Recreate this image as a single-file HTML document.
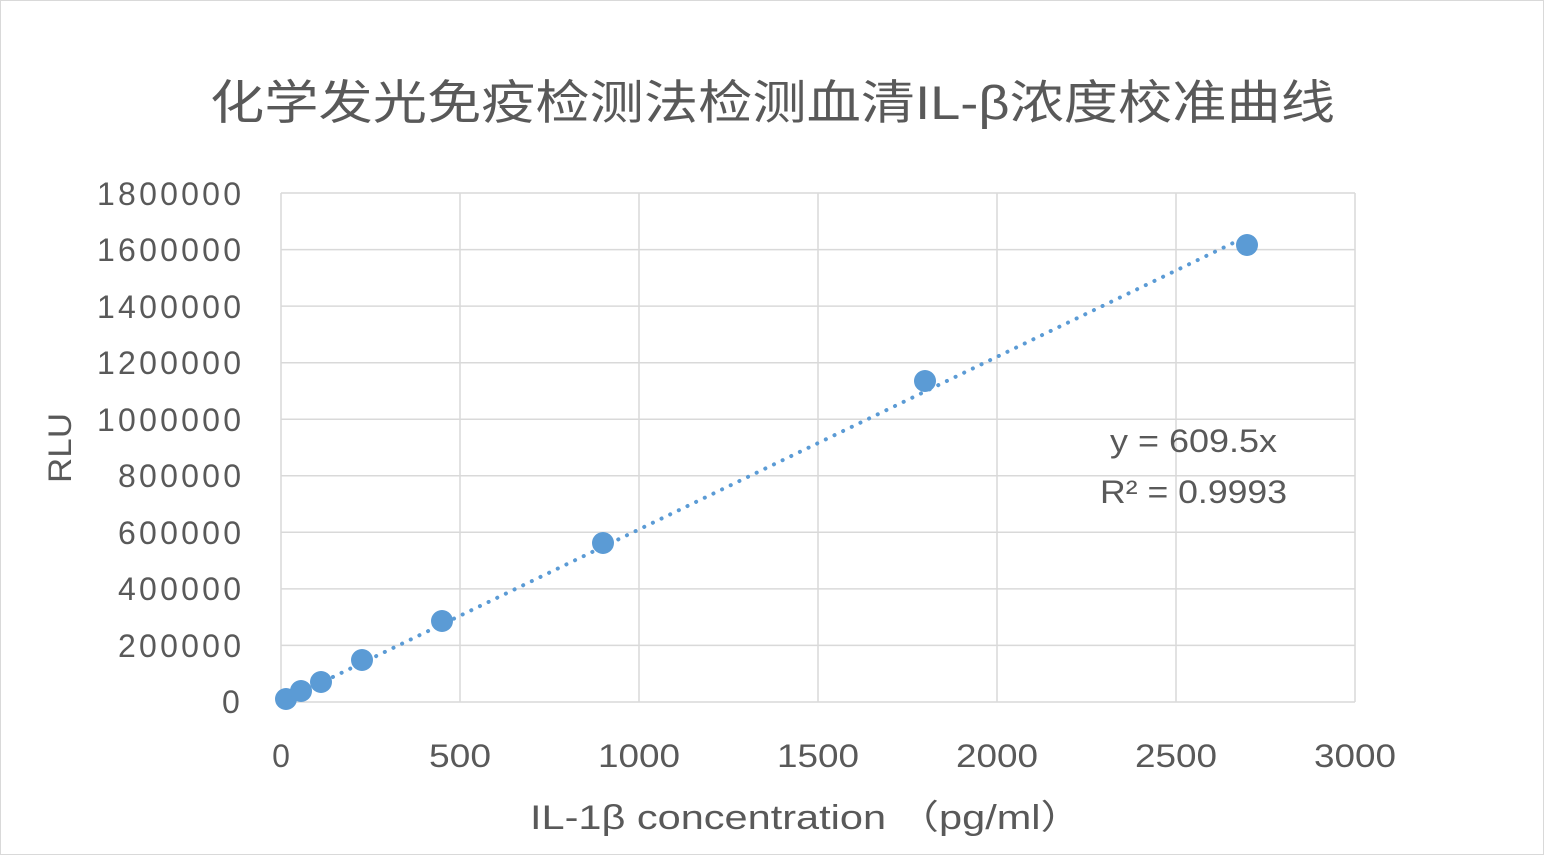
<!DOCTYPE html>
<html><head><meta charset="utf-8"><style>
body{margin:0;background:#fff}
svg text{font-family:"Liberation Sans","Noto Sans CJK SC",sans-serif;fill:#595959}
</style></head><body>
<svg width="1545" height="856" xmlns="http://www.w3.org/2000/svg">
<rect x="0.5" y="0.5" width="1543" height="854" fill="#fff" stroke="#d9d9d9"/>
<text x="210" y="119" font-size="47" textLength="1125" lengthAdjust="spacingAndGlyphs">化学发光免疫检测法检测血清IL-β浓度校准曲线</text>
<g stroke="#d9d9d9" stroke-width="1.5">
<line x1="281" y1="702" x2="1355" y2="702"/>
<line x1="281" y1="645.4" x2="1355" y2="645.4"/>
<line x1="281" y1="588.9" x2="1355" y2="588.9"/>
<line x1="281" y1="532.3" x2="1355" y2="532.3"/>
<line x1="281" y1="475.8" x2="1355" y2="475.8"/>
<line x1="281" y1="419.2" x2="1355" y2="419.2"/>
<line x1="281" y1="362.7" x2="1355" y2="362.7"/>
<line x1="281" y1="306.1" x2="1355" y2="306.1"/>
<line x1="281" y1="249.6" x2="1355" y2="249.6"/>
<line x1="281" y1="193" x2="1355" y2="193"/>
<line x1="281" y1="193" x2="281" y2="702"/>
<line x1="460" y1="193" x2="460" y2="702"/>
<line x1="639" y1="193" x2="639" y2="702"/>
<line x1="818" y1="193" x2="818" y2="702"/>
<line x1="997" y1="193" x2="997" y2="702"/>
<line x1="1176" y1="193" x2="1176" y2="702"/>
<line x1="1355" y1="193" x2="1355" y2="702"/>
</g>
<g font-size="32" lengthAdjust="spacingAndGlyphs">
<text x="222" y="713" textLength="20">0</text>
<text x="118" y="657" textLength="123">200000</text>
<text x="118" y="600" textLength="123">400000</text>
<text x="118" y="544" textLength="123">600000</text>
<text x="118" y="487" textLength="123">800000</text>
<text x="97" y="431" textLength="144">1000000</text>
<text x="97" y="374" textLength="144">1200000</text>
<text x="97" y="318" textLength="144">1400000</text>
<text x="97" y="261" textLength="144">1600000</text>
<text x="97" y="205" textLength="144">1800000</text>
</g>
<g font-size="32" text-anchor="middle">
<text x="281" y="767">0</text>
<text x="460" y="767" textLength="62" lengthAdjust="spacingAndGlyphs">500</text>
<text x="639" y="767" textLength="82" lengthAdjust="spacingAndGlyphs">1000</text>
<text x="818" y="767" textLength="82" lengthAdjust="spacingAndGlyphs">1500</text>
<text x="997" y="767" textLength="82" lengthAdjust="spacingAndGlyphs">2000</text>
<text x="1176" y="767" textLength="82" lengthAdjust="spacingAndGlyphs">2500</text>
<text x="1355" y="767" textLength="82" lengthAdjust="spacingAndGlyphs">3000</text>
</g>
<text x="530" y="829" font-size="34" textLength="552" lengthAdjust="spacingAndGlyphs">IL-1β concentration （pg/ml）</text>
<text transform="translate(71,448) rotate(-90)" font-size="32" text-anchor="middle" textLength="70" lengthAdjust="spacingAndGlyphs">RLU</text>
<line x1="281" y1="702" x2="1247.6" y2="236" stroke="#5b9bd5" stroke-width="4" stroke-dasharray="0.1 9.5" stroke-linecap="round"/>
<g fill="#5b9bd5">
<circle cx="286" cy="699" r="11"/>
<circle cx="301" cy="691" r="11"/>
<circle cx="321" cy="682" r="11"/>
<circle cx="362" cy="660" r="11"/>
<circle cx="442" cy="621" r="11"/>
<circle cx="603" cy="543" r="11"/>
<circle cx="925" cy="381" r="11"/>
<circle cx="1247" cy="245" r="11"/>
</g>
<text x="1110" y="452" font-size="32" textLength="167" lengthAdjust="spacingAndGlyphs">y = 609.5x</text>
<text x="1100" y="503" font-size="32" textLength="187" lengthAdjust="spacingAndGlyphs">R² = 0.9993</text>
</svg>
</body></html>
